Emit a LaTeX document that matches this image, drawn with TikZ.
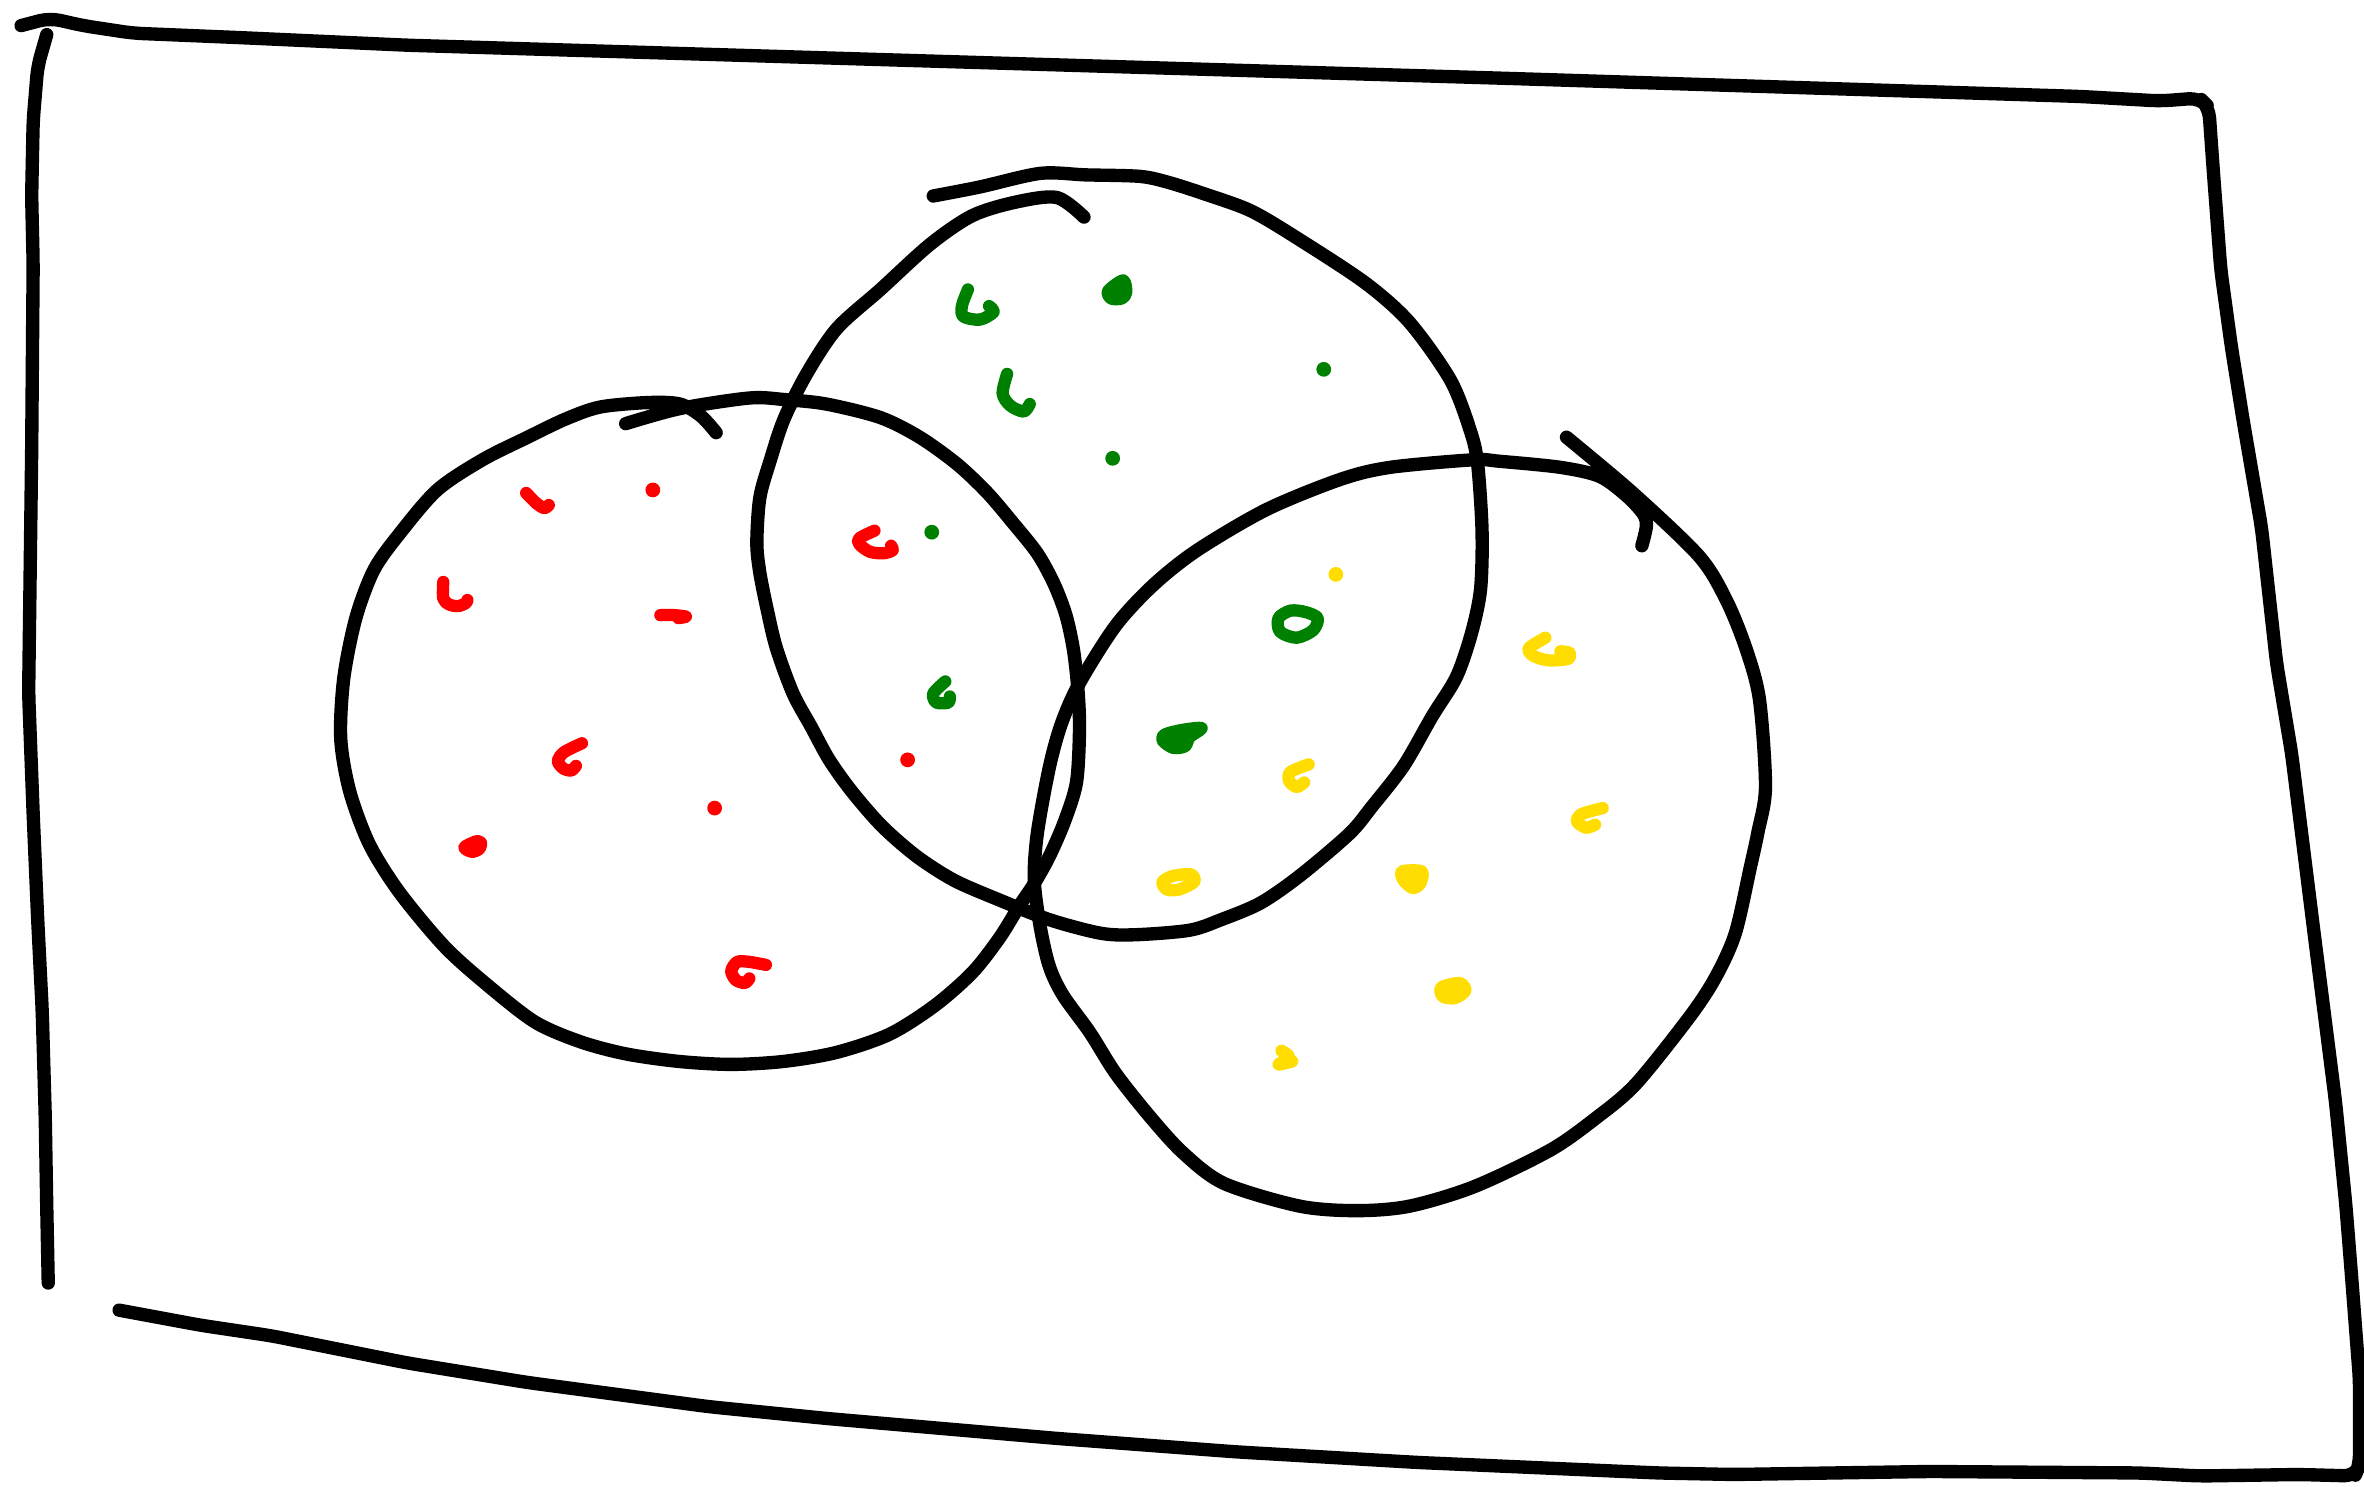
\documentclass[tikz,border=0pt]{standalone}
\usepackage{xcolor}
\usepackage{tikz}
\definecolor{markred}{HTML}{FF0000}
\definecolor{markgreen}{HTML}{008000}
\definecolor{markyellow}{HTML}{FFDD00}
\begin{document}
\begin{tikzpicture}[
    x=0.015077cm,
    y=-0.015077cm,
    outline/.style={line width=3.8pt, line cap=round, line join=round},
    redmark/.style={draw=markred, line width=3.5pt, line cap=round, line join=round},
    greenmark/.style={draw=markgreen, line width=3.5pt, line cap=round, line join=round},
    yellowmark/.style={draw=markyellow, line width=3.5pt, line cap=round, line join=round},
    dotsize/.style={radius=2.1pt}
  ]
  \useasboundingbox (0,0) rectangle (1568,986);

  % frame, drawn in two strokes
  \draw[outline, rounded corners=3pt] (14,17) -- (33,12) -- (55,17) -- (88,22) -- (160,25) -- (270,30)
    -- (600,40) -- (1000,52) -- (1380,64) -- (1433,67) -- (1459,65) -- (1465,71) -- (1468,113)
    -- (1473,179) -- (1480,230) -- (1488,280) -- (1500,350) -- (1510,440) -- (1520,500)
    -- (1535,620) -- (1549,730) -- (1556,800) -- (1560,850) -- (1565,915) -- (1565,972)
    -- (1562,979) -- (1525,978) -- (1459,979) -- (1420,977) -- (1280,976) -- (1150,978)
    -- (1100,977) -- (940,970) -- (820,963) -- (700,954) -- (550,941) -- (470,933)
    -- (350,917) -- (270,904) -- (180,886) -- (133,879) -- (79,869);
  \draw[outline, rounded corners=3pt] (31,23) -- (25,44) -- (22,80) -- (21,130) -- (22,175)
    -- (21,300) -- (19,460) -- (22,540) -- (25,610) -- (28,670) -- (30,740) -- (31,800) -- (32,851);

  % the three sets
  \draw[outline] plot[smooth, tension=0.5] coordinates {
    (415,281) (451,271) (497,264) (520,265) (548,268) (584,277) (610,290) (635,308) (655,327)
    (672,347) (688,367) (699,387) (707,408) (712,431) (715,458) (716,484) (714,519) (706,545)
    (696,568) (686,586) (676,601) (663,622) (645,645) (620,667) (590,686) (555,698) (520,704)
    (485,706) (450,704) (415,699) (385,691) (355,678) (324,654) (295,628) (265,592) (245,560)
    (232,525) (226,490) (228,450) (236,410) (248,378) (265,354) (290,325) (320,305) (350,290)
    (375,278) (398,270) (430,267) (451,268) (465,276) (475,287)};
  \draw[outline] plot[smooth, tension=0.5] coordinates {
    (619,130) (650,124) (690,115) (720,116) (756,117) (775,121) (800,129) (830,140) (862,159)
    (906,188) (935,214) (962,252) (975,285) (980,307) (983,352) (982,391) (976,420) (966,449)
    (950,475) (931,508) (910,535) (895,553) (862,581) (836,599) (810,610) (789,617) (753,620)
    (730,619) (696,610) (663,597) (633,584) (608,568) (585,548) (565,525) (550,504) (538,482)
    (526,460) (515,430) (509,405) (504,380) (502,360) (504,330) (511,305) (520,278) (535,248)
    (555,218) (584,192) (617,162) (645,143) (674,134) (701,131) (719,144)};
  \draw[outline] plot[smooth, tension=0.5] coordinates {
    (1039,290) (1083,327) (1127,369) (1145,398) (1158,430) (1167,464) (1171,522) (1166,552)
    (1161,575) (1151,619) (1138,648) (1121,674) (1085,719) (1058,742) (1028,763) (978,787)
    (935,800) (900,803) (862,800) (812,785) (785,765) (763,741) (740,712) (723,685) (705,660)
    (696,641) (690,615) (686,584) (688,553) (696,509) (704,480) (716,453) (740,415) (765,388)
    (794,365) (840,338) (889,318) (922,310) (977,305) (995,306) (1035,310) (1061,316)
    (1079,329) (1090,341) (1092,349) (1089,362)};

  % red marks
  \draw[redmark] plot[smooth] coordinates {(349,327) (356,334) (361,337) (364,335)};
  \draw[redmark] plot[smooth] coordinates {(294,386) (294,397) (298,401) (304,402) (309,400) (310,398)};
  \draw[redmark] plot[smooth] coordinates {(438,408) (447,408) (455,409) (450,410)};
  \draw[redmark] plot[smooth] coordinates {(386,493) (374,499) (370,505) (374,510) (379,511) (382,508)};
  \draw[redmark, fill=markred] plot[smooth cycle] coordinates {(308,562) (313,565) (318,563) (319,559) (316,558)};
  \draw[redmark] plot[smooth] coordinates {(508,640) (497,638) (489,638) (485,644) (488,650) (494,652) (497,649)};
  \draw[redmark] plot[smooth] coordinates {(580,352) (570,357) (570,361) (577,366) (586,367) (592,365) (591,362)};
  \foreach \x/\y in {433/325, 602/504, 474/536}
    \fill[markred] (\x,\y) circle[dotsize];

  % green marks
  \draw[greenmark] plot[smooth] coordinates {(642,192) (638,203) (639,210) (650,212) (659,207) (656,203)};
  \draw[greenmark, fill=markgreen] plot[smooth cycle] coordinates {(745,186) (735,193) (737,198) (744,198) (747,194)};
  \draw[greenmark] plot[smooth] coordinates {(668,248) (665,261) (670,269) (679,273) (683,268)};
  \draw[greenmark] plot[smooth] coordinates {(627,452) (619,460) (621,466) (629,466) (630,462)};
  \draw[greenmark] plot[smooth cycle] coordinates {(874,410) (866,406) (856,405) (848,410) (849,419) (860,423) (871,418)};
  \draw[greenmark, fill=markgreen] plot[smooth cycle] coordinates {(797,483) (785,484) (773,487) (771,491) (778,496) (786,495) (789,489)};
  \foreach \x/\y in {878/245, 738/304, 618/353}
    \fill[markgreen] (\x,\y) circle[dotsize];

  % yellow marks
  \draw[yellowmark] plot[smooth] coordinates {(1025,423) (1014,430) (1017,435) (1027,438) (1040,437) (1041,433) (1035,432)};
  \draw[yellowmark] plot[smooth] coordinates {(868,507) (856,512) (855,518) (860,522) (865,519)};
  \draw[yellowmark] plot[smooth] coordinates {(1063,536) (1049,540) (1046,545) (1052,549) (1058,547)};
  \draw[yellowmark] plot[smooth cycle] coordinates {(790,580) (778,581) (771,585) (774,590) (782,590) (792,585)};
  \draw[yellowmark, fill=markyellow] plot[smooth cycle] coordinates {(943,578) (930,578) (931,584) (937,589) (942,586)};
  \draw[yellowmark, fill=markyellow] plot[smooth cycle] coordinates {(968,652) (956,655) (957,661) (965,662) (972,657)};
  \draw[yellowmark] plot[smooth] coordinates {(850,697) (855,701) (848,706) (857,704)};
  \foreach \x/\y in {886/381}
    \fill[markyellow] (\x,\y) circle[dotsize];
\end{tikzpicture}
\end{document}
